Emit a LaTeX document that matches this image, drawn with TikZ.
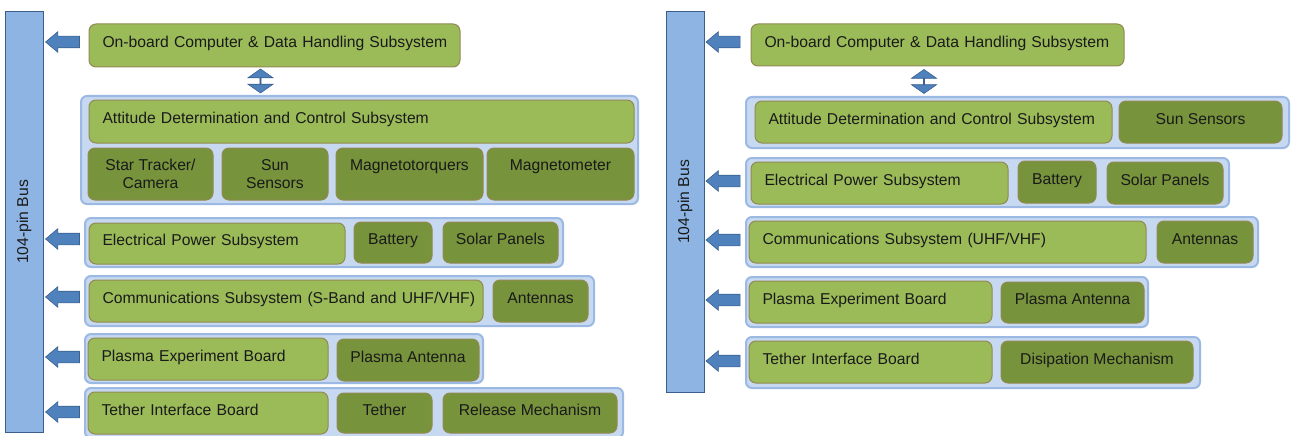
\documentclass[tikz,border=0pt]{standalone}
\usepackage{fontspec}
\setmainfont{Liberation Sans}
\usetikzlibrary{shapes.arrows}
\definecolor{lgreen}{HTML}{9BBB59}
\definecolor{dgreen}{HTML}{77933C}
\definecolor{boxborder}{HTML}{938953}
\definecolor{contfill}{HTML}{C6D9F1}
\definecolor{contborder}{HTML}{9BB9E3}
\definecolor{busfill}{HTML}{8DB4E2}
\definecolor{busborder}{HTML}{3A5F8B}
\definecolor{arrowfill}{HTML}{4F81BD}
\definecolor{arrowborder}{HTML}{3A6190}
\definecolor{txt}{HTML}{1A1A1A}
\newcommand\dfont{\fontsize{15.7}{18}\selectfont}
\tikzset{
  box/.style={draw=boxborder, line width=1pt, rounded corners=7pt, text=txt, font=\dfont, inner ysep=0pt, inner xsep=13.5pt},
  onel/.style={text height=11pt, text depth=6.8pt},
  hightext/.style={text height=11pt, text depth=17.8pt},
  lbox/.style 2 args={box, fill=lgreen, minimum width=#1, minimum height=#2,
    /utils/exec={\pgfmathsetlengthmacro\boxtw{#1-27}}, text width=\boxtw, align=left, onel},
  dbox/.style 2 args={box, fill=dgreen, minimum width=#1, minimum height=#2, inner xsep=2pt},
  cont/.style 2 args={draw=contborder, fill=contfill, line width=2pt, rounded corners=6pt, minimum width=#1, minimum height=#2, inner sep=0pt},
  bus/.style={draw=busborder, fill=busfill, line width=1pt, rotate=90, text=txt, font=\dfont, inner sep=0pt},
  barrow/.style={single arrow, shape border rotate=180, draw=arrowborder, fill=arrowfill, line width=0.6pt,
    minimum height=34pt, minimum width=20pt, single arrow head extend=4.5pt, single arrow tip angle=80, inner xsep=0pt, inner ysep=5.5pt},
  dblarrow/.style={double arrow, shape border rotate=90, draw=arrowborder, fill=arrowfill, line width=0.6pt,
    minimum height=24pt, minimum width=25pt, double arrow head extend=7pt, double arrow tip angle=110, inner xsep=0pt, inner ysep=5.5pt}
}
\begin{document}
\begin{tikzpicture}[x=1pt,y=-1pt]
\useasboundingbox (0,0) rectangle (1291,436);
\fill[white] (0,0) rectangle (1291,436);
\clip (0,0) rectangle (1291,436);
% ---------------- left diagram ----------------
\node[bus, minimum width=420, minimum height=38] (busL) at (24,222) {104-pin Bus};
\node[lbox={371}{43}] (obcL) at (274.5,45.5) {\mbox{On-board Computer \& Data Handling Subsystem}};
\node[barrow] (aL1) at (66,42) {};
\node[dblarrow] (dL) at (260.5,81) {};
\node[cont={557}{108}] (adcsCL) at (359.5,150) {};
\node[lbox={545}{43}] (adcsL) at (361.5,121.5) {Attitude Determination and Control Subsystem};
\node[dbox={125}{52}, align=center] (starL) at (150.5,174) {Star Tracker/\\Camera};
\node[dbox={106}{52}, align=center] (sunL) at (275,174) {Sun\\Sensors};
\node[dbox={147}{52}, hightext] (mtqL) at (409.5,174) {Magnetotorquers};
\node[dbox={147}{52}, hightext] (mtmL) at (560.5,174) {Magnetometer};
\node[cont={478}{49}] (epsCL) at (324,242.5) {};
\node[lbox={256}{41}] (epsL) at (217,243.5) {Electrical Power Subsystem};
\node[dbox={78}{41}, onel] (batL) at (393,242.5) {Battery};
\node[dbox={115}{41}, onel] (solL) at (500.5,242.5) {Solar Panels};
\node[barrow] (aL2) at (66,239) {};
\node[cont={509}{50}] (comCL) at (339.5,301) {};
\node[lbox={394}{42}] (comL) at (286,301) {\mbox{Communications Subsystem (S-Band and UHF/VHF)}};
\node[dbox={95}{42}, onel] (antL) at (540.5,301) {Antennas};
\node[barrow] (aL3) at (66,297) {};
\node[cont={398}{49}] (plaCL) at (284,358.5) {};
\node[lbox={240}{42}] (plaL) at (208,359) {Plasma Experiment Board};
\node[dbox={142}{42}, onel] (pantL) at (408,360) {Plasma Antenna};
\node[barrow] (aL4) at (66,357) {};
\node[cont={538}{50}] (tetCL) at (354,413) {};
\node[lbox={240}{42}] (tibL) at (208,413) {Tether Interface Board};
\node[dbox={95}{40}, onel] (tetL) at (384.5,413) {Tether};
\node[dbox={174}{40}, onel] (relL) at (530,413) {Release Mechanism};
\node[barrow] (aL5) at (66,412) {};
% ---------------- right diagram ----------------
\node[bus, minimum width=380, minimum height=38] (busR) at (685,202) {104-pin Bus};
\node[lbox={373}{42}] (obcR) at (937.5,45) {\mbox{On-board Computer \& Data Handling Subsystem}};
\node[barrow] (aR1) at (726.5,42) {};
\node[dblarrow] (dR) at (924,81.5) {};
\node[cont={543}{51}] (adcsCR) at (1017.5,122.5) {};
\node[lbox={357}{42}] (adcsR) at (933.5,122) {\mbox{Attitude Determination and Control Subsystem}};
\node[dbox={163}{42}, onel] (sunR) at (1200.5,122) {Sun Sensors};
\node[cont={483}{49}] (epsCR) at (987.5,182.5) {};
\node[lbox={257}{42}] (epsR) at (879.5,183) {Electrical Power Subsystem};
\node[dbox={78}{42}, onel] (batR) at (1057,182) {Battery};
\node[dbox={116}{42}, onel] (solR) at (1165,183) {Solar Panels};
\node[barrow] (aR2) at (726.5,181) {};
\node[cont={512}{50}] (comCR) at (1002,242) {};
\node[lbox={397}{42}] (comR) at (947.5,242) {Communications Subsystem (UHF/VHF)};
\node[dbox={96}{42}, onel] (antR) at (1205,242) {Antennas};
\node[barrow] (aR3) at (726.5,240) {};
\node[cont={402}{50}] (plaCR) at (947,302) {};
\node[lbox={243}{42}] (plaR) at (870.5,302) {Plasma Experiment Board};
\node[dbox={143}{41}, onel] (pantR) at (1072.5,302.5) {Plasma Antenna};
\node[barrow] (aR4) at (726.5,300) {};
\node[cont={454}{51}] (tetCR) at (973,362.5) {};
\node[lbox={243}{42}] (tibR) at (870.5,362) {Tether Interface Board};
\node[dbox={192}{42}, onel] (disR) at (1097,362) {Disipation Mechanism};
\node[barrow] (aR5) at (726.5,361) {};
\end{tikzpicture}
\end{document}
